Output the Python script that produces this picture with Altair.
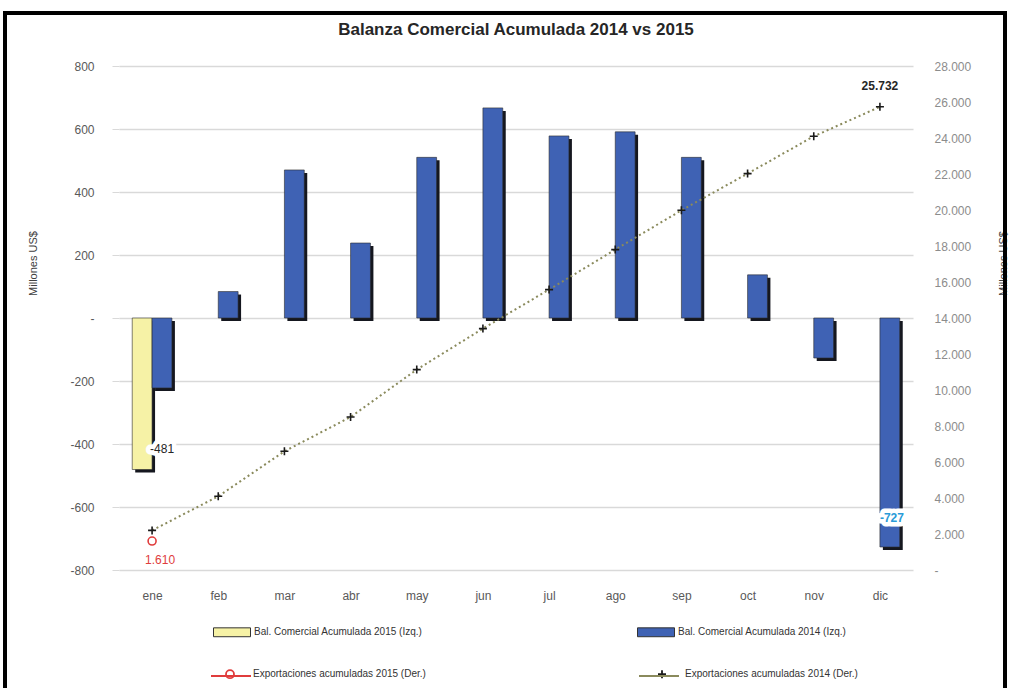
import altair as alt
import pandas as pd

# ---------------- data ----------------
MONTHS = ["ene", "feb", "mar", "abr", "may", "jun", "jul", "ago", "sep", "oct", "nov", "dic"]
BAL_2014 = [-222, 84, 470, 238, 510, 667, 578, 591, 510, 137, -127, -727]
BAL_2015 = [-481]
EXP_2014 = [2200, 4094, 6594, 8500, 11133, 13411, 15578, 17800, 19983, 22022, 24094, 25732]
EXP_2015 = [1610]

SERIES = [
    "Bal. Comercial Acumulada 2015 (Izq.)",
    "Bal. Comercial Acumulada 2014 (Izq.)",
    "Exportaciones acumuladas 2015 (Der.)",
    "Exportaciones acumuladas 2014 (Der.)",
]
BAR_COLORS = ["#f6f2a6", "#3f62b4"]
LINE_COLOR_14 = "#8a8a5c"
RED = "#e03c3c"
LEFT_TICKS = list(range(-800, 801, 200))
RIGHT_TICKS = list(range(0, 28001, 2000))

TITLE = "Balanza Comercial Acumulada 2014 vs 2015"
AXIS_TITLE = "Millones US$"

# ---------------- style ----------------
FONT = "Liberation Sans"
BAR_W = 0.3          # bar width in month-band units
SHADOW_DX = 0.045    # 3D shadow offset (band units)
SHADOW_DY = 9.5      # 3D shadow offset (left-axis units)
n = len(MONTHS)


def thousands(v):
    return f"{v:,}".replace(",", ".")


rows = []
for i, v in enumerate(BAL_2015):
    rows.append({"idx": i, "serie": SERIES[0], "value": v, "slot": -1})
for i, v in enumerate(BAL_2014):
    rows.append({"idx": i, "serie": SERIES[1], "value": v, "slot": 0})
bars_df = pd.DataFrame(rows)

prow = [{"idx": i, "value": v, "serie": SERIES[2]} for i, v in enumerate(EXP_2015)]
prow += [{"idx": i, "value": v, "serie": SERIES[3]} for i, v in enumerate(EXP_2014)]
pts_df = pd.DataFrame(prow)

lab_b15 = pd.DataFrame({"idx": [len(BAL_2015) - 1], "value": [BAL_2015[-1]],
                        "label": [str(BAL_2015[-1])]})
lab_b14 = pd.DataFrame({"idx": [len(BAL_2014) - 1], "value": [BAL_2014[-1]],
                        "label": [str(BAL_2014[-1])]})
lab_e15 = pd.DataFrame({"idx": [0], "value": [EXP_2015[0]], "label": [thousands(EXP_2015[0])]})
lab_e14 = pd.DataFrame({"idx": [len(EXP_2014) - 1], "value": [EXP_2014[-1]],
                        "label": [thousands(EXP_2014[-1])]})

month_expr = "[" + ",".join("'%s'" % m for m in MONTHS) + "][datum.value]"

x_scale = alt.Scale(domain=[-0.5, n - 0.5], nice=False, zero=False)
x_axis = alt.Axis(values=list(range(n)), labelExpr=month_expr, grid=False, domain=False,
                  ticks=False, labelPadding=20, labelColor="#595959", labelFontSize=12,
                  labelFont=FONT, title=None)


def X(field):
    return alt.X(field, type="quantitative", scale=x_scale, axis=x_axis)


left_scale = alt.Scale(domain=[-800, 800], nice=False, zero=False)
left_axis = alt.Axis(values=LEFT_TICKS, labelExpr="datum.value == 0 ? '-' : '' + datum.value",
                     grid=True, gridColor="#d9d9d9", gridWidth=1.5, domain=False, tickSize=7,
                     tickColor="#d9d9d9", labelColor="#595959", labelFontSize=12, labelFont=FONT,
                     labelPadding=18, title=AXIS_TITLE, titleX=-86, titleY=197, titleAngle=270,
                     titleAlign="center", titleBaseline="middle", titleFontSize=11,
                     titleFontWeight="normal", titleColor="#404040", titleFont=FONT)


def YL(field):
    return alt.Y(field, type="quantitative", scale=left_scale, axis=left_axis)


right_scale = alt.Scale(domain=[0, 28000], nice=False, zero=False)
right_axis = alt.Axis(orient="right", values=RIGHT_TICKS,
                      labelExpr="datum.value == 0 ? '-' : replace(format(datum.value, ','), ',', '.')",
                      grid=False, domain=False, ticks=False, labelColor="#8c8c8c", labelFontSize=12,
                      labelFont=FONT, labelPadding=21, title=AXIS_TITLE, titleX=90, titleY=197,
                      titleAngle=270, titleAlign="center", titleBaseline="middle", titleFontSize=11,
                      titleFontWeight="normal", titleColor="#404040", titleFont=FONT)


def YR(field):
    return alt.Y(field, type="quantitative", scale=right_scale, axis=right_axis)


rect_path = "M-1,-0.24H1V0.24H-1Z"
cross_path = "M-1,0H1M0,-1V1"

# ---------------- left (balance) layers ----------------
base_bars = alt.Chart(bars_df).transform_calculate(
    x0=f"datum.idx + datum.slot * {BAR_W}",
    x1=f"datum.idx + (datum.slot + 1) * {BAR_W}",
    zero="0",
    sx0=f"datum.idx + datum.slot * {BAR_W} + {SHADOW_DX}",
    sx1=f"datum.idx + (datum.slot + 1) * {BAR_W} + {SHADOW_DX}",
    sy0=f"-{SHADOW_DY}",
    sy1=f"datum.value - {SHADOW_DY}",
)

shadow = base_bars.mark_rect(color="#15171f").encode(
    x=X("sx0"), x2="sx1", y=YL("sy0"), y2="sy1")

bar_legend = alt.Legend(
    orient="none", legendX=94, legendY=547, columns=2, title=None, direction="horizontal",
    labelFontSize=10, labelColor="#333333", labelFont=FONT, labelLimit=400,
    columnPadding=212, symbolType=rect_path, symbolSize=1369, labelOffset=3,
    symbolStrokeColor="#333333", symbolStrokeWidth=1,
)

bars = base_bars.mark_rect(stroke="#2b2b2b", strokeWidth=0.6).encode(
    x=X("x0"), x2="x1", y=YL("value"), y2="zero",
    color=alt.Color("serie:N", scale=alt.Scale(domain=SERIES[:2], range=BAR_COLORS), legend=bar_legend),
)


def text_layer(df, halo, **kw):
    props = dict(font=FONT, baseline="middle")
    props.update(kw)
    if halo:
        props.update(stroke="white", strokeWidth=9, strokeJoin="round")
    return alt.Chart(df).mark_text(**props)


halo481 = text_layer(lab_b15, True, align="left", dx=-2, dy=-21, fontSize=12).encode(
    x=X("idx"), y=YL("value"), text="label:N")
text481 = text_layer(lab_b15, False, align="left", dx=-2, dy=-21, fontSize=12, color="#262626").encode(
    x=X("idx"), y=YL("value"), text="label:N")
halo727 = text_layer(lab_b14, True, align="left", dx=0, dy=-29, fontSize=12, fontWeight="bold").encode(
    x=X("idx"), y=YL("value"), text="label:N")
text727 = text_layer(lab_b14, False, align="left", dx=0, dy=-29, fontSize=12, fontWeight="bold",
                     color="#2a9bd8").encode(x=X("idx"), y=YL("value"), text="label:N")

frame = alt.Chart(pd.DataFrame({"k": [0]})).mark_rect(
    fillOpacity=0, stroke="black", strokeWidth=4).encode(
    x=alt.value(-114), x2=alt.value(886), y=alt.value(-53), y2=alt.value(700))

left_group = alt.layer(shadow, bars, halo481, text481, halo727, text727, frame)

# ---------------- right (exports) layers ----------------
# line part of the legend (symbols only, no labels)
line_legend = alt.Legend(
    orient="none", legendX=91, legendY=589, columns=2, title=None, direction="horizontal",
    labelExpr="''", labelOffset=0, symbolType="stroke", symbolSize=1600, symbolStrokeWidth=2,
    columnPadding=380,
)
# marker part of the legend (with labels)
pt_legend = alt.Legend(
    orient="none", legendX=106, legendY=603, columns=2, title=None, direction="horizontal",
    labelFontSize=10, labelColor="#333333", labelFont=FONT, labelLimit=400,
    columnPadding=228, symbolSize=64, labelOffset=18, symbolStrokeWidth=1.8,
)

line = alt.Chart(pts_df).mark_line(strokeWidth=2).encode(
    x=X("idx"), y=YR("value"),
    color=alt.Color("serie:N", sort=SERIES[2:], scale=alt.Scale(range=[RED, LINE_COLOR_14]),
                    legend=line_legend),
    strokeDash=alt.StrokeDash("serie:N", sort=SERIES[2:], scale=alt.Scale(range=[[1, 0], [2, 3]]),
                              legend=line_legend),
)
pts = alt.Chart(pts_df).mark_point(size=64, strokeWidth=1.6, filled=True, opacity=1).encode(
    x=X("idx"), y=YR("value"),
    shape=alt.Shape("serie:N", scale=alt.Scale(domain=SERIES[2:], range=["circle", cross_path]),
                    legend=pt_legend),
    stroke=alt.Stroke("serie:N", scale=alt.Scale(domain=SERIES[2:], range=[RED, "#1a1a1a"]),
                      legend=pt_legend),
    fill=alt.Fill("serie:N", scale=alt.Scale(domain=SERIES[2:], range=["white", "transparent"]),
                  legend=pt_legend),
)
lab15 = alt.Chart(lab_e15).mark_text(align="left", baseline="middle", dx=-7, dy=19, color=RED,
                                     fontSize=12, font=FONT).encode(
    x=X("idx"), y=YR("value"), text="label:N")
lab14 = alt.Chart(lab_e14).mark_text(align="center", baseline="middle", dy=-21, color="#262626",
                                     fontSize=12, fontWeight="bold", font=FONT).encode(
    x=X("idx"), y=YR("value"), text="label:N")

right_group = alt.layer(line, pts, lab15, lab14)

chart = alt.layer(left_group, right_group).resolve_scale(
    y="independent", color="independent"
).properties(
    width=794, height=504,
    title=alt.Title(TITLE, fontSize=17, fontWeight="bold", color="#262626", font=FONT,
                    anchor="middle", offset=0, dy=28),
    padding={"left": 119, "top": 66, "right": 97, "bottom": 118},
    autosize=alt.AutoSizeParams(type="none"),
).configure(font=FONT).configure_view(stroke=None)

chart.save("out.html", embed_options={"renderer": "svg", "actions": False})
